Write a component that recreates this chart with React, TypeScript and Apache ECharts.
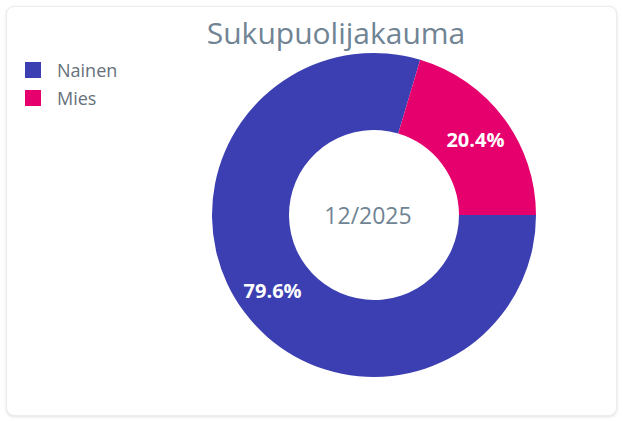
import React, { useEffect, useRef } from "react";
import * as echarts from "echarts";

const categories = ["Nainen", "Mies"];
const values = [79.6, 20.4];
const colors = ["#3c3fb1", "#e6006e"];
const titleText = "Sukupuolijakauma";
const centerText = "12/2025";

export default function App() {
  const ref = useRef<HTMLDivElement>(null);
  useEffect(() => {
    if (!ref.current) return;
    const chart = echarts.init(ref.current, undefined, { renderer: "svg" });
    chart.setOption({
      animation: false,
      title: {
        text: titleText,
        left: 331,
        textAlign: "center",
        top: 12,
        textStyle: {
          fontFamily: "Open Sans",
          fontWeight: "normal",
          fontSize: 30,
          color: "#708494",
        },
      },
      legend: {
        orient: "vertical",
        left: 20,
        top: 56,
        itemWidth: 16,
        itemHeight: 16,
        itemGap: 10,
        icon: "rect",
        data: categories,
        textStyle: {
          fontFamily: "Open Sans",
          fontSize: 18,
          color: "#66717b",
          padding: [0, 0, 0, 11],
        },
      },
      graphic: [
        {
          type: "text",
          x: 368,
          y: 215,
          style: {
            text: centerText,
            font: '23px "Open Sans"',
            fill: "#708494",
            align: "center",
            verticalAlign: "middle",
          },
        },
      ],
      series: [
        {
          type: "pie",
          center: [374, 215],
          radius: [85, 162],
          startAngle: 0,
          clockwise: true,
          avoidLabelOverlap: false,
          label: {
            show: true,
            position: "inside",
            formatter: (p: any) => p.value.toFixed(1) + "%",
            color: "#ffffff",
            fontFamily: "Open Sans",
            fontWeight: "bold",
            fontSize: 20,
          },
          labelLine: { show: false },
          emphasis: { disabled: true },
          data: categories.map((c, i) => ({
            name: c,
            value: values[i],
            itemStyle: { color: colors[i] },
          })),
        },
      ],
    });
    return () => chart.dispose();
  }, []);
  return (
    <div style={{ position: "fixed", left: 0, top: 0, width: 623, height: 421, background: "#fff" }}>
      <div
        style={{
          position: "absolute",
          left: 6,
          top: 6,
          width: 609,
          height: 408,
          border: "1px solid #ececec",
          borderRadius: 8,
          boxShadow: "0 1px 3px rgba(0,0,0,0.12)",
          background: "#fff",
        }}
      />
      <div ref={ref} style={{ position: "absolute", left: 0, top: 0, width: 623, height: 421 }} />
    </div>
  );
}
